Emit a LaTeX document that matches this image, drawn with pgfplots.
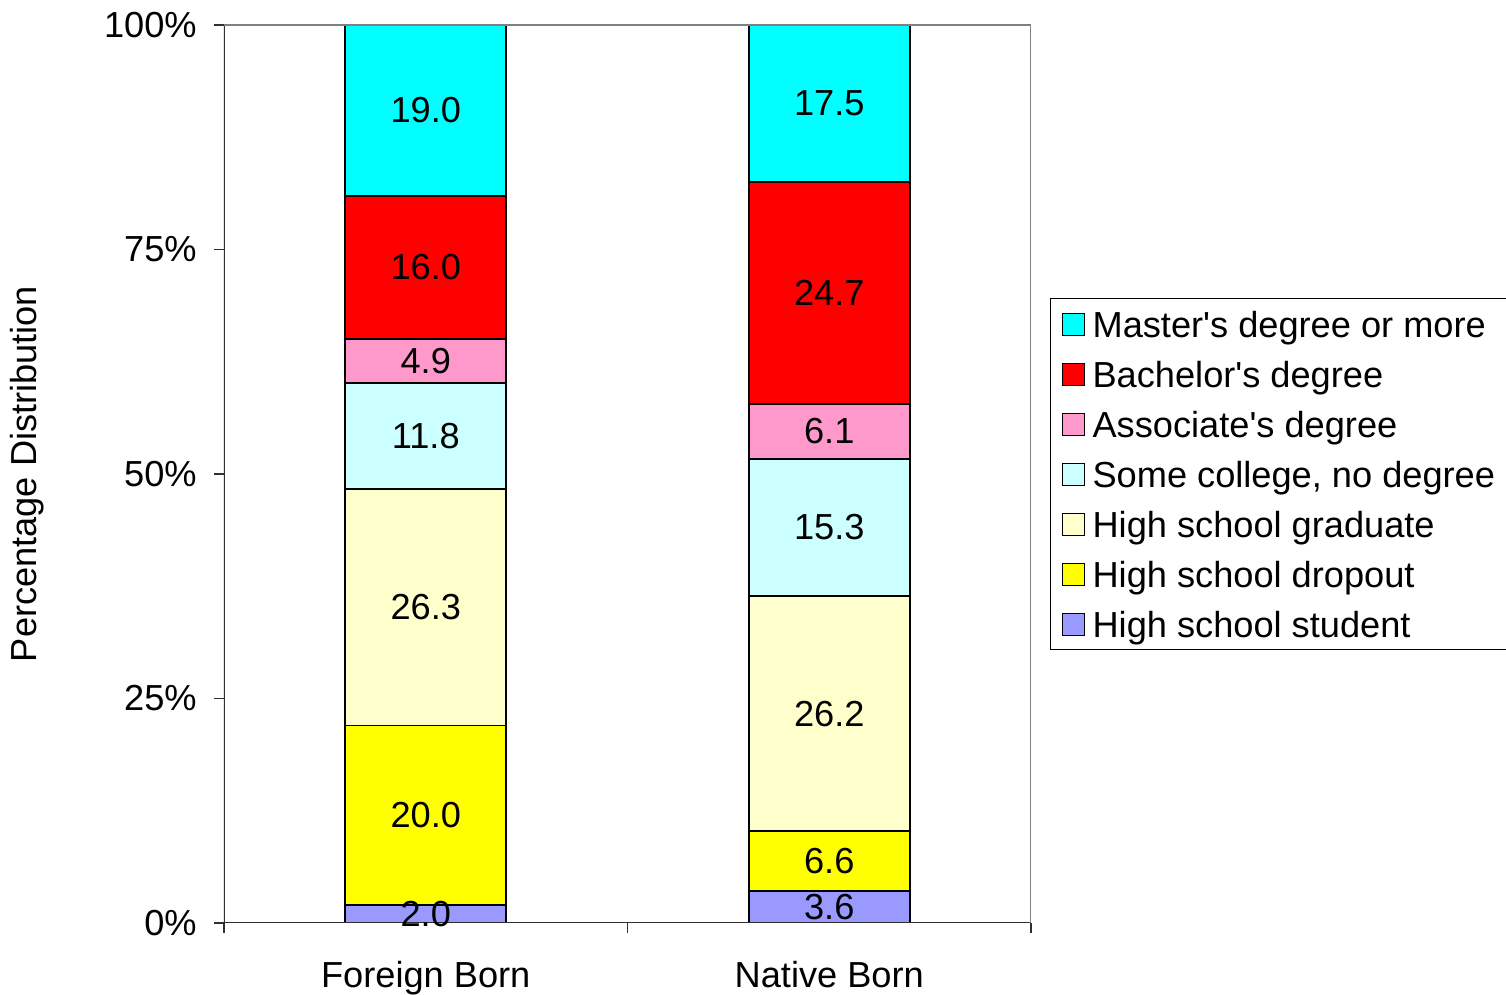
\documentclass[border=0pt]{standalone}
\usepackage{pgfplots}
\pgfplotsset{compat=1.18}
\usepackage{fontspec}
\setmainfont{Liberation Sans}
\definecolor{cStudent}{HTML}{9999FF}
\definecolor{cDrop}{HTML}{FFFF00}
\definecolor{cGrad}{HTML}{FFFFCC}
\definecolor{cSome}{HTML}{CCFFFF}
\definecolor{cAssoc}{HTML}{FF99CC}
\definecolor{cBach}{HTML}{FF0000}
\definecolor{cMast}{HTML}{00FFFF}
\definecolor{cFrame}{HTML}{808080}
\definecolor{cAxis}{HTML}{303030}
\newcommand\fz{\fontsize{18.1}{21.7}\selectfont}
\begin{document}
\fz
\begin{tikzpicture}
\path[use as bounding box] (-112pt,-36pt) rectangle (641pt,461.5pt);
\begin{axis}[
  at={(0,0)}, anchor=south west,
  width=403.5pt, height=449pt, scale only axis,
  xmin=-0.5, xmax=1.5, ymin=0, ymax=100,
  ybar stacked, bar width=80.5pt,
  axis line style={draw=none},
  xtick pos=bottom, ytick pos=left,
  xtick={-0.5,0.5,1.5}, xticklabels={},
  extra x ticks={0,1}, extra x tick labels={Foreign Born,Native Born},
  extra x tick style={major tick length=0pt, xticklabel style={anchor=north, inner sep=0pt, yshift=-19pt, font=\fz}},
  ytick={0,25,50,75,100}, yticklabels={0\%,25\%,50\%,75\%,100\%},
  yticklabel style={anchor=east, inner sep=0pt, xshift=-8.5pt, font=\fz},
  tick align=outside, major tick length=5pt,
  tick style={draw=cAxis, line width=0.8pt},
  ylabel={Percentage Distribution},
  every axis y label/.style={at={(axis description cs:-0.2441,0.5)}, rotate=90, anchor=center, font=\fz},
  legend image code/.code={\draw[#1,draw=black,line width=0.5pt] (0pt,-5.5pt) rectangle (11pt,5.5pt);},
  reverse legend,
  legend cell align=left,
  legend style={at={(1.02354,0.69599)}, anchor=north west, draw=black, line width=0.6pt,
    inner xsep=5.5pt, inner ysep=0.25pt, row sep=0pt, font=\fz,
    nodes={inner sep=0pt, text height=19.25pt, text depth=5.75pt},
    /tikz/every odd column/.append style={column sep=4pt}},
  every axis plot/.append style={draw=black, line width=0.9pt},
]
\draw[cFrame, line width=0.8pt] (rel axis cs:0,1) -- (rel axis cs:1,1) -- (rel axis cs:1,0);
\draw[cAxis, line width=0.8pt] (rel axis cs:0,1) -- (rel axis cs:0,0) -- (rel axis cs:1,0);
\addplot[fill=cStudent] coordinates {(0,2.0) (1,3.6)};
\addplot[fill=cDrop] coordinates {(0,20.0) (1,6.6)};
\addplot[fill=cGrad] coordinates {(0,26.3) (1,26.2)};
\addplot[fill=cSome] coordinates {(0,11.8) (1,15.3)};
\addplot[fill=cAssoc] coordinates {(0,4.9) (1,6.1)};
\addplot[fill=cBach] coordinates {(0,16.0) (1,24.7)};
\addplot[fill=cMast] coordinates {(0,19.0) (1,17.5)};
\legend{High school student, High school dropout, High school graduate, {Some college, no degree\rule{5pt}{0pt}}, Associate\textquotesingle s degree, Bachelor\textquotesingle s degree, Master\textquotesingle s degree or more}
\end{axis}
\begin{axis}[
  at={(0,0)}, anchor=south west,
  width=403.5pt, height=449pt, scale only axis,
  xmin=-0.5, xmax=1.5, ymin=0, ymax=100,
  hide axis, clip=false,
]
\addplot[draw=none, mark=none, nodes near coords, point meta=explicit symbolic,
  every node near coord/.style={anchor=center, inner sep=0pt, text=black, font=\fz}]
  table[meta=label] {
x y label
0 1.0 2.0
0 12.0 20.0
0 35.15 26.3
0 54.2 11.8
0 62.55 4.9
0 73.0 16.0
0 90.5 19.0
1 1.8 3.6
1 6.9 6.6
1 23.3 26.2
1 44.05 15.3
1 54.75 6.1
1 70.15 24.7
1 91.25 17.5
};
\end{axis}
\end{tikzpicture}
\end{document}
